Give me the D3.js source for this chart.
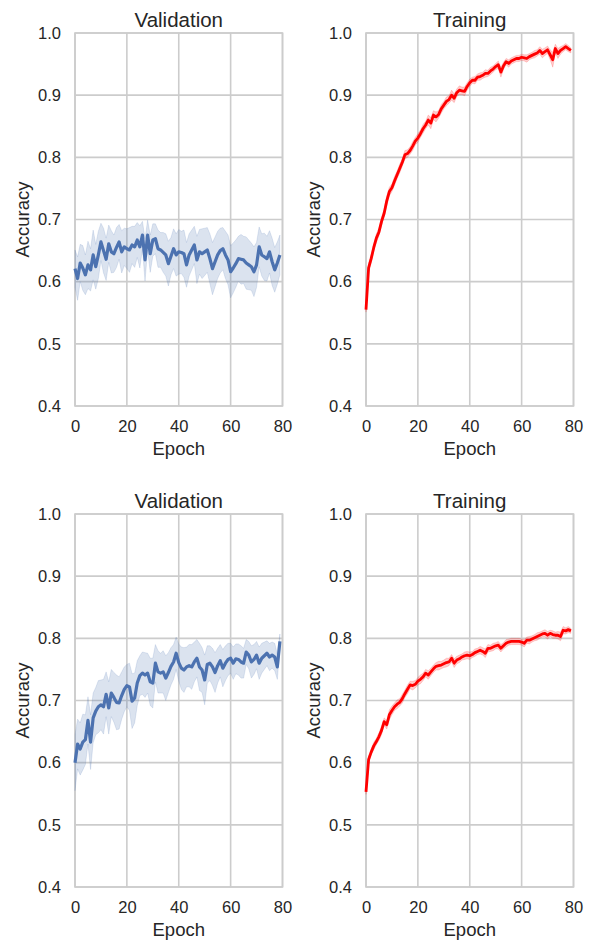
<!DOCTYPE html>
<html>
<head>
<meta charset="utf-8">
<script src="https://cdn.jsdelivr.net/npm/d3@7/dist/d3.min.js"></script>
<style>
html,body{margin:0;padding:0;background:#fff;}
svg{display:block;}
text{font-family:"Liberation Sans",Arial,sans-serif;fill:#262626;}
</style>
</head>
<body>
<svg id="chart" width="592" height="940"></svg>
<script>
// ---------- data ----------
const epochs = d3.range(0, 80);
const xTicks = [0, 20, 40, 60, 80];
const yTicks = [0.4, 0.5, 0.6, 0.7, 0.8, 0.9, 1.0];
const titles = ["Validation", "Training", "Validation", "Training"];
const xLabel = "Epoch";
const yLabel = "Accuracy";

const val1Mean = [0.621,0.605,0.630,0.622,0.611,0.627,0.619,0.643,0.624,0.643,
  0.664,0.650,0.636,0.661,0.648,0.645,0.655,0.664,0.648,0.656,
  0.653,0.651,0.659,0.656,0.667,0.656,0.675,0.635,0.675,0.645,
  0.667,0.669,0.653,0.651,0.647,0.643,0.629,0.641,0.653,0.643,
  0.648,0.647,0.645,0.627,0.643,0.651,0.659,0.635,0.648,0.645,
  0.648,0.651,0.637,0.621,0.632,0.643,0.650,0.653,0.643,0.635,
  0.616,0.622,0.629,0.637,0.636,0.635,0.630,0.627,0.624,0.616,
  0.627,0.656,0.643,0.640,0.637,0.648,0.632,0.619,0.630,0.643];
const val1Spread = [0.030,0.035,0.030,0.036,0.032,0.038,0.034,0.040,0.036,0.038,
  0.030,0.036,0.034,0.030,0.034,0.030,0.032,0.028,0.034,0.030,
  0.032,0.036,0.030,0.033,0.028,0.034,0.022,0.034,0.024,0.030,
  0.026,0.024,0.030,0.028,0.032,0.034,0.036,0.030,0.032,0.034,
  0.036,0.034,0.038,0.036,0.034,0.032,0.030,0.038,0.036,0.040,
  0.038,0.036,0.040,0.042,0.040,0.038,0.036,0.034,0.038,0.040,
  0.042,0.040,0.038,0.036,0.040,0.038,0.042,0.040,0.038,0.040,
  0.036,0.032,0.034,0.038,0.036,0.034,0.038,0.036,0.034,0.032];

const train1Mean = [0.555,0.622,0.637,0.655,0.670,0.680,0.697,0.710,0.730,0.745,
  0.751,0.762,0.772,0.782,0.792,0.804,0.806,0.811,0.818,0.826,
  0.831,0.838,0.846,0.852,0.860,0.855,0.868,0.865,0.869,0.878,
  0.884,0.890,0.893,0.900,0.895,0.904,0.908,0.907,0.906,0.914,
  0.920,0.924,0.924,0.929,0.930,0.932,0.935,0.935,0.939,0.942,
  0.946,0.949,0.937,0.947,0.954,0.951,0.955,0.957,0.959,0.959,
  0.961,0.960,0.959,0.962,0.964,0.966,0.968,0.972,0.967,0.970,
  0.973,0.965,0.957,0.975,0.967,0.972,0.975,0.978,0.975,0.972];
const train1Spread = [0.004,0.008,0.007,0.006,0.007,0.006,0.007,0.006,0.008,0.007,
  0.006,0.007,0.006,0.007,0.006,0.007,0.006,0.006,0.007,0.006,
  0.007,0.006,0.007,0.006,0.008,0.009,0.007,0.008,0.006,0.007,
  0.006,0.007,0.006,0.008,0.007,0.006,0.007,0.006,0.007,0.006,
  0.006,0.005,0.006,0.005,0.006,0.005,0.006,0.005,0.006,0.005,
  0.005,0.006,0.008,0.006,0.005,0.006,0.005,0.005,0.005,0.005,
  0.005,0.005,0.006,0.005,0.005,0.006,0.005,0.006,0.007,0.006,
  0.006,0.008,0.012,0.007,0.008,0.006,0.005,0.005,0.005,0.004];

const val2Mean = [0.600,0.630,0.622,0.633,0.637,0.668,0.633,0.672,0.683,0.690,
  0.693,0.690,0.710,0.688,0.712,0.705,0.697,0.696,0.708,0.718,
  0.724,0.722,0.699,0.704,0.728,0.740,0.744,0.741,0.744,0.730,
  0.728,0.760,0.746,0.744,0.746,0.736,0.745,0.755,0.762,0.776,
  0.761,0.752,0.749,0.754,0.756,0.754,0.762,0.768,0.754,0.749,
  0.733,0.758,0.760,0.754,0.745,0.756,0.764,0.752,0.760,0.766,
  0.768,0.760,0.767,0.766,0.762,0.760,0.778,0.773,0.762,0.766,
  0.773,0.760,0.768,0.772,0.776,0.770,0.773,0.770,0.754,0.795];
const val2Spread = [0.045,0.040,0.042,0.045,0.040,0.038,0.044,0.040,0.038,0.042,
  0.040,0.044,0.036,0.042,0.038,0.040,0.044,0.042,0.038,0.036,
  0.034,0.038,0.044,0.040,0.036,0.032,0.034,0.036,0.032,0.038,
  0.040,0.030,0.034,0.032,0.034,0.036,0.032,0.030,0.028,0.026,
  0.030,0.034,0.036,0.032,0.034,0.036,0.032,0.030,0.038,0.036,
  0.040,0.030,0.028,0.030,0.032,0.028,0.026,0.030,0.028,0.026,
  0.024,0.026,0.024,0.025,0.026,0.024,0.020,0.022,0.026,0.024,
  0.022,0.026,0.024,0.022,0.020,0.022,0.021,0.022,0.020,0.012];

const train2Mean = [0.553,0.605,0.617,0.627,0.634,0.642,0.652,0.666,0.661,0.677,
  0.684,0.690,0.694,0.697,0.703,0.711,0.718,0.725,0.724,0.726,
  0.731,0.734,0.738,0.744,0.741,0.746,0.751,0.755,0.756,0.757,
  0.759,0.761,0.762,0.768,0.760,0.765,0.767,0.770,0.772,0.773,
  0.772,0.774,0.777,0.779,0.781,0.779,0.776,0.784,0.784,0.786,
  0.788,0.789,0.784,0.788,0.792,0.794,0.795,0.795,0.795,0.795,
  0.794,0.792,0.797,0.797,0.799,0.801,0.803,0.805,0.807,0.808,
  0.805,0.808,0.806,0.805,0.805,0.803,0.813,0.812,0.814,0.812];
const train2Spread = [0.004,0.006,0.005,0.006,0.005,0.006,0.007,0.006,0.007,0.008,
  0.007,0.006,0.007,0.006,0.007,0.006,0.007,0.006,0.007,0.006,
  0.006,0.007,0.006,0.006,0.007,0.006,0.006,0.006,0.007,0.006,
  0.006,0.007,0.006,0.006,0.007,0.006,0.006,0.005,0.006,0.006,
  0.006,0.005,0.006,0.005,0.006,0.006,0.007,0.006,0.005,0.006,
  0.005,0.006,0.006,0.005,0.006,0.005,0.005,0.005,0.005,0.005,
  0.005,0.006,0.005,0.006,0.005,0.005,0.006,0.005,0.005,0.006,
  0.006,0.005,0.006,0.005,0.006,0.007,0.006,0.005,0.005,0.004];

// ---------- layout ----------
const panels = [
  {title: titles[0], mean: val1Mean,   spread: val1Spread,   color: "#4c72b0", lw: 3.2, x0: 75,  x1: 282.5, y0: 33,  y1: 406},
  {title: titles[1], mean: train1Mean, spread: train1Spread, color: "#ff0000", lw: 2.8, x0: 366, x1: 573.5, y0: 33,  y1: 406},
  {title: titles[2], mean: val2Mean,   spread: val2Spread,   color: "#4c72b0", lw: 3.2, x0: 75,  x1: 282.5, y0: 514, y1: 887},
  {title: titles[3], mean: train2Mean, spread: train2Spread, color: "#ff0000", lw: 2.8, x0: 366, x1: 573.5, y0: 514, y1: 887}
];

const svg = d3.select("#chart");
const gridColor = "#cccccc";

panels.forEach(p => {
  const x = d3.scaleLinear().domain([0, 80]).range([p.x0, p.x1]);
  const y = d3.scaleLinear().domain([0.4, 1.0]).range([p.y1, p.y0]);
  const g = svg.append("g");

  // grid
  g.selectAll(".gx").data(xTicks).enter().append("line")
    .attr("x1", d => x(d)).attr("x2", d => x(d))
    .attr("y1", p.y0).attr("y2", p.y1)
    .attr("stroke", gridColor).attr("stroke-width", 1.6);
  g.selectAll(".gy").data(yTicks).enter().append("line")
    .attr("x1", p.x0).attr("x2", p.x1)
    .attr("y1", d => y(d)).attr("y2", d => y(d))
    .attr("stroke", gridColor).attr("stroke-width", 1.6);

  // axes with tick labels
  const xAxis = d3.axisBottom(x).tickValues(xTicks).tickSize(0).tickPadding(14).tickFormat(d3.format("d"));
  const gx = g.append("g").attr("transform", `translate(0,${p.y1})`).call(xAxis);
  gx.select(".domain").remove();
  gx.selectAll("text").attr("font-size", 16.5).attr("fill", "#262626")
    .attr("font-family", '"Liberation Sans", Arial, sans-serif');

  const yAxis = d3.axisLeft(y).tickValues(yTicks).tickSize(0).tickPadding(14).tickFormat(d3.format(".1f"));
  const gy = g.append("g").attr("transform", `translate(${p.x0},0)`).call(yAxis);
  gy.select(".domain").remove();
  gy.selectAll("text").attr("font-size", 16.5).attr("fill", "#262626")
    .attr("font-family", '"Liberation Sans", Arial, sans-serif');

  // frame
  g.append("rect").attr("x", p.x0).attr("y", p.y0)
    .attr("width", p.x1 - p.x0).attr("height", p.y1 - p.y0)
    .attr("fill", "none").attr("stroke", gridColor).attr("stroke-width", 1.6);

  // band
  const area = d3.area()
    .x((d, i) => x(epochs[i]))
    .y0((d, i) => y(p.mean[i] - p.spread[i]))
    .y1((d, i) => y(p.mean[i] + p.spread[i]));
  g.append("path").datum(p.mean).attr("d", area)
    .attr("fill", p.color).attr("fill-opacity", 0.2)
    .attr("stroke", p.color).attr("stroke-opacity", 0.2).attr("stroke-width", 0.8);

  // line
  const line = d3.line().x((d, i) => x(epochs[i])).y(d => y(d));
  g.append("path").datum(p.mean).attr("d", line)
    .attr("fill", "none").attr("stroke", p.color)
    .attr("stroke-width", p.lw).attr("stroke-linejoin", "round");

  // title
  g.append("text").attr("x", (p.x0 + p.x1) / 2).attr("y", p.y0 - 6)
    .attr("text-anchor", "middle").attr("font-size", 20.5).text(p.title);

  // x label
  g.append("text").attr("x", (p.x0 + p.x1) / 2).attr("y", p.y1 + 49)
    .attr("text-anchor", "middle").attr("font-size", 18.5).text(xLabel);

  // y label
  const cy = (p.y0 + p.y1) / 2;
  const lx = p.x0 - 46;
  g.append("text").attr("transform", `translate(${lx},${cy}) rotate(-90)`)
    .attr("text-anchor", "middle").attr("font-size", 18.5).text(yLabel);
});
</script>
</body>
</html>
